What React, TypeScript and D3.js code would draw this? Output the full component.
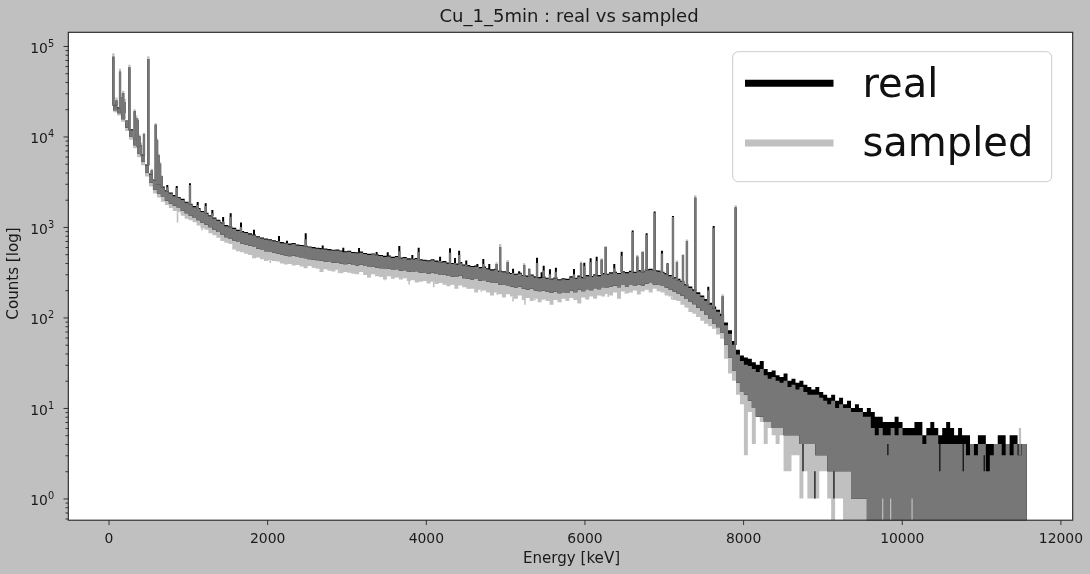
import React, { useEffect, useRef } from 'react';
import * as d3 from 'd3';

// channel energies in keV, read along the x axis
const energy = [
  60, 110, 160, 210, 260, 310, 360, 410, 460, 510,
  560, 610, 660, 710, 760, 810, 860, 910, 960, 1010,
  1060, 1110, 1160, 1210, 1260, 1310, 1360, 1410, 1460, 1510,
  1560, 1610, 1660, 1710, 1760, 1810, 1860, 1910, 1960, 2010,
  2060, 2110, 2160, 2210, 2260, 2310, 2360, 2410, 2460, 2510,
  2560, 2610, 2660, 2710, 2760, 2810, 2860, 2910, 2960, 3010,
  3060, 3110, 3160, 3210, 3260, 3310, 3360, 3410, 3460, 3510,
  3560, 3610, 3660, 3710, 3760, 3810, 3860, 3910, 3960, 4010,
  4060, 4110, 4160, 4210, 4260, 4310, 4360, 4410, 4460, 4510,
  4560, 4610, 4660, 4710, 4760, 4810, 4860, 4910, 4960, 5010,
  5060, 5110, 5160, 5210, 5260, 5310, 5360, 5410, 5460, 5510,
  5560, 5610, 5660, 5710, 5760, 5810, 5860, 5910, 5960, 6010,
  6060, 6110, 6160, 6210, 6260, 6310, 6360, 6410, 6460, 6510,
  6560, 6610, 6660, 6710, 6760, 6810, 6860, 6910, 6960, 7010,
  7060, 7110, 7160, 7210, 7260, 7310, 7360, 7410, 7460, 7510,
  7560, 7610, 7660, 7710, 7760, 7810, 7860, 7910, 7960, 8010,
  8060, 8110, 8160, 8210, 8260, 8310, 8360, 8410, 8460, 8510,
  8560, 8610, 8660, 8710, 8760, 8810, 8860, 8910, 8960, 9010,
  9060, 9110, 9160, 9210, 9260, 9310, 9360, 9410, 9460, 9510,
  9560, 9610, 9660, 9710, 9760, 9810, 9860, 9910, 9960, 10010,
  10060, 10110, 10160, 10210, 10260, 10310, 10360, 10410, 10460, 10510,
  10560, 10610, 10660, 10710, 10760, 10810, 10860, 10910, 10960, 11010,
  11060, 11110, 11160, 11210, 11260, 11310, 11360, 11410, 11460, 11510, 11575,
];

const realUpper = [
  22400, 21000, 18500, 15000, 12000, 9800, 7900, 6400, 4900, 3900,
  3350, 3050, 2800, 2550, 2400, 2250, 2150, 2050, 1900, 1800,
  1700, 1620, 1500, 1440, 1350, 1270, 1200, 1130, 1050, 1020,
  980, 930, 900, 880, 850, 825, 790, 765, 745, 730,
  715, 700, 680, 670, 655, 665, 640, 630, 625, 610,
  600, 590, 585, 578, 570, 560, 565, 550, 540, 545,
  530, 525, 535, 515, 505, 510, 495, 490, 480, 485,
  470, 478, 460, 465, 450, 445, 455, 440, 435, 428,
  440, 425, 415, 420, 405, 400, 395, 410, 385, 380,
  370, 375, 360, 365, 350, 340, 345, 330, 325, 318,
  310, 305, 312, 295, 290, 298, 285, 280, 283, 275,
  270, 278, 265, 272, 268, 285, 275, 290, 280, 295,
  288, 300, 295, 310, 305, 315, 320, 310, 325, 318,
  328, 320, 335, 325, 340, 345, 335, 330, 320, 310,
  295, 280, 268, 255, 235, 220, 205, 190, 175, 160,
  145, 132, 122, 110, 88, 72, 55, 44, 38, 36,
  35, 32, 30, 33, 27, 25, 26, 23, 22, 24,
  20, 21, 19, 20, 18, 17, 16, 17, 15, 14,
  13, 14, 12, 13, 11, 12, 10, 11, 10, 9,
  10, 9, 8, 8, 7, 7, 7, 8, 7, 6,
  6, 6, 7, 7, 5, 6, 7, 6, 5, 6,
  7, 6, 5, 6, 5, 5, 4, 4, 5, 5,
  4, 4, 4, 5, 5, 4, 5, 5, 4, 4, 4,
];

const realLower = [
  19500, 18000, 15500, 12500, 10000, 8000, 6500, 5300, 4000, 3100,
  2600, 2350, 2150, 1950, 1820, 1720, 1620, 1520, 1420, 1340,
  1260, 1190, 1110, 1060, 990, 930, 880, 825, 770, 745,
  710, 680, 655, 640, 620, 600, 575, 555, 540, 530,
  520, 510, 495, 485, 475, 480, 465, 455, 450, 440,
  435, 428, 422, 416, 410, 402, 405, 395, 388, 392,
  380, 376, 385, 370, 362, 366, 355, 350, 343, 347,
  335, 342, 328, 332, 322, 318, 325, 313, 310, 305,
  312, 302, 295, 298, 288, 284, 280, 290, 272, 268,
  262, 266, 255, 258, 248, 240, 243, 232, 228, 223,
  218, 214, 218, 208, 203, 208, 198, 195, 198, 192,
  188, 194, 185, 190, 186, 198, 190, 202, 195, 205,
  200, 210, 205, 215, 212, 220, 224, 216, 228, 220,
  228, 222, 232, 225, 236, 240, 232, 228, 222, 214,
  204, 193, 184, 174, 160, 150, 140, 128, 118, 108,
  96, 86, 78, 68, 50, 36, 26, 19, 15, 14,
  12, 10, 8, 8, 7, 7, 6, 6, 6, 5,
  5, 5, 5, 4, 4, 4, 4, 3, 3, 3,
  2, 2, 2, 2, 2, 2, 1, 1, 1, 1,
  0, 0, 0, 0, 0, 0, 0, 0, 0, 0,
  0, 0, 0, 0, 0, 0, 0, 0, 0, 0,
  0, 0, 0, 0, 0, 0, 0, 0, 0, 0,
  0, 0, 0, 0, 0, 0, 0, 0, 0, 0, 0,
];

const sampledUpper = [
  22000, 20500, 18200, 14800, 11700, 9600, 7700, 6200, 4800, 3800,
  3280, 2950, 2730, 2480, 2340, 2180, 2100, 1990, 1850, 1760,
  1650, 1580, 1460, 1400, 1310, 1240, 1170, 1100, 1020, 990,
  950, 905, 875, 860, 825, 805, 770, 745, 725, 712,
  695, 685, 660, 655, 635, 648, 622, 615, 608, 595,
  582, 575, 568, 565, 552, 548, 548, 538, 525, 532,
  515, 512, 520, 503, 490, 498, 480, 478, 465, 472,
  455, 466, 447, 453, 438, 433, 442, 428, 422, 417,
  428, 413, 405, 408, 393, 390, 383, 398, 375, 368,
  360, 364, 350, 354, 340, 330, 336, 320, 316, 308,
  302, 296, 304, 287, 281, 290, 277, 272, 275, 267,
  262, 270, 258, 264, 260, 276, 267, 282, 272, 286,
  280, 292, 286, 300, 297, 306, 311, 302, 316, 308,
  318, 312, 325, 316, 330, 335, 326, 320, 310, 300,
  285, 270, 258, 246, 226, 212, 197, 182, 168, 153,
  138, 125, 116, 104, 82, 66, 50, 39, 33, 30,
  29, 27, 25, 27, 23, 21, 22, 20, 19, 20,
  17, 18, 16, 17, 15, 14, 14, 14, 13, 12,
  11, 12, 10, 11, 10, 10, 9, 9, 9, 8,
  8, 6, 5, 6, 5, 5, 6, 5, 6, 5,
  5, 5, 5, 5, 4, 5, 5, 5, 4, 4,
  4, 4, 4, 4, 4, 3, 4, 3, 4, 4,
  2, 3, 4, 4, 3, 4, 3, 4, 3, 4, 2,
];

const sampledLower = [
  18500, 17000, 14500, 11500, 9200, 7400, 5900, 4800, 3600, 2800,
  2350, 2120, 1900, 1750, 1620, 1500, 1450, 1330, 1230, 1190,
  1130, 1040, 970, 930, 850, 810, 760, 700, 670, 650,
  565, 540, 525, 505, 490, 450, 460, 440, 420, 430,
  420, 415, 395, 385, 390, 375, 380, 365, 350, 370,
  355, 345, 318, 340, 328, 322, 336, 308, 318, 312,
  305, 300, 318, 295, 276, 300, 285, 280, 262, 285,
  267, 276, 262, 272, 253, 258, 244, 248, 253, 238,
  248, 235, 240, 230, 221, 230, 207, 225, 216, 207,
  207, 189, 202, 198, 189, 175, 189, 180, 166, 180,
  170, 161, 175, 156, 164, 152, 161, 147, 158, 152,
  138, 156, 147, 161, 152, 164, 156, 143, 166, 158,
  170, 161, 175, 170, 182, 175, 189, 161, 193, 184,
  189, 198, 179, 193, 202, 189, 207, 195, 189, 175,
  170, 156, 152, 138, 129, 115, 110, 101, 92, 85,
  80, 75, 65, 58, 35, 24, 20, 14, 11, 3,
  9, 4, 8, 7, 4, 6, 5, 4, 5, 2,
  2, 3, 3, 1, 2, 1, 1, 1, 2, 2,
  1, 0, 1, 1, 0, 0, 0, 0, 0, 0,
  0, 0, 0, 0, 0, 0, 0, 0, 0, 0,
  0, 0, 0, 0, 0, 0, 0, 0, 0, 0,
  0, 0, 0, 0, 0, 0, 0, 0, 0, 0,
  0, 0, 0, 0, 0, 0, 0, 0, 0, 0, 0,
];

// emission lines that stand out above the continuum
const peakEnergy = [
  61, 100, 145, 165, 185, 205, 263, 330, 350, 368, 390, 410, 447, 502, 545, 595, 612, 630, 650, 670,
  741, 860, 1027, 1124, 1225, 1309, 1445, 1540, 1670, 1834, 2149, 2486, 3158, 3666, 3910,
  4305, 4368, 4420, 4650, 4725, 4800, 4893, 4937, 5032, 5177, 5240, 5303, 5402, 5486, 5565, 5640, 5868,
  5957, 5998, 6078, 6154, 6217, 6268, 6376, 6469, 6608, 6666, 6734, 6784, 6885, 6977, 7048, 7116, 7166,
  7242, 7292, 7397, 7561, 7629, 7742, 7906, 11490,
  2250, 2700, 2960, 3380, 3520, 3830, 4180, 4510, 5100, 5460,
];
const peakReal = [
  76000, 25000, 52000, 27000, 30000, 24000, 58000, 19000, 16000, 15000, 10000, 8000, 10500, 72000, 4200, 13500, 9000, 6200, 5000, 3600,
  2900, 2830, 3040, 1890, 1830, 1540, 1290, 1420, 1120, 930, 795, 850, 585, 617, 590,
  581, 454, 547, 389, 443, 389, 390, 600, 410, 325, 380, 340, 457, 372, 340, 354, 343,
  395, 403, 451, 469, 435, 600, 389, 533, 912, 470, 530, 851, 1480, 547, 398, 1320, 410,
  490, 700, 2100, 219, 1023, 170, 1640, 4,
  705, 625, 590, 530, 525, 490, 470, 425, 345, 315,
];
const peakSampled = [
  83000, 27000, 56000, 30000, 32000, 26000, 62000, 20000, 17000, 16000, 10500, 8500, 11000, 77000, 4400, 14000, 9500, 6500, 5200, 3700,
  2750, 2700, 2900, 1750, 1700, 1420, 1150, 1300, 1000, 820, 700, 730, 520, 540, 530,
  520, 400, 490, 350, 390, 340, 407, 648, 432, 290, 398, 352, 400, 330, 300, 320, 300,
  414, 370, 410, 420, 451, 617, 350, 480, 880, 490, 547, 820, 1440, 510, 390, 1290, 426,
  500, 726, 2240, 200, 980, 180, 1740, 6,
  650, 575, 530, 495, 470, 445, 420, 385, 310, 275,
];

// downward fuzz of the sampled spectrum below its main band
const dipEnergy = [
  870, 1180, 1620, 2040, 2580, 2900, 3270, 3480, 3790, 4100, 4344, 4535, 4700, 4900, 5100, 5250, 5376, 5480, 5530, 5700,
  5855, 6040, 6300, 6510, 6800, 7100, 7292, 7420, 7520, 7620,
];
const dipCounts = [
  1120, 920, 560, 400, 380, 310, 285, 258, 232, 215, 240, 212, 192, 178, 150, 138, 155, 160, 170, 158,
  165, 160, 168, 187, 200, 158, 137, 116, 106, 101,
];

// single channels in the tail where only one of the two spectra is present
const silverSlitEnergy = [9760, 9860, 10130];
const blackDropEnergy = [8755, 8905, 9145, 9825, 10480, 10775, 11040];
const blackDropTop = [4, 2, 2, 4, 4, 4, 3];
const blackDropBottom = [2, 1, 1, 3, 2, 2, 2];

const xTicks = [0, 2000, 4000, 6000, 8000, 10000, 12000];
const yMajorTicks = [1, 10, 100, 1000, 10000, 100000];
const yMinorFactors = [2, 3, 4, 5, 6, 7, 8, 9];
const legendLabels = ['real', 'sampled'];

const SILVER = '#c0c0c0';
const OVERLAP = '#777777';
const FONT = '"DejaVu Sans", sans-serif';

const App: React.FC = () => {
  const ref = useRef<SVGSVGElement | null>(null);

  useEffect(() => {
    if (!ref.current) return;
    const svg = d3.select(ref.current);
    svg.selectAll('*').remove();

    const left = 68.3, right = 1072.7, top = 32.3, bottom = 520.2;
    const width = right - left, height = bottom - top;

    const x = d3.scaleLinear().domain([-507, 12155]).range([0, width]);
    const y = d3.scaleLog().domain([0.575, 141600]).range([height, 0]);
    // zero counts fall off the bottom of a log axis
    const yc = (c: number) => (c > 0 ? y(c) : height + 5);

    svg.append('defs').append('clipPath').attr('id', 'plot-clip')
      .append('rect').attr('width', width).attr('height', height);

    const plot = svg.append('g').attr('transform', `translate(${left},${top})`);
    plot.append('rect').attr('width', width).attr('height', height).attr('fill', '#fff');

    const marks = plot.append('g').attr('clip-path', 'url(#plot-clip)');
    const idx = d3.range(energy.length);
    const at = (arr: number[], e: number) => arr[Math.max(0, d3.bisectRight(energy, e) - 1)];

    const band = (lo: (i: number) => number, hi: (i: number) => number) =>
      d3.area<number>()
        .curve(d3.curveStepAfter)
        .x(i => x(energy[i]))
        .y0(i => yc(lo(i)))
        .y1(i => yc(hi(i)))(idx);

    marks.append('g').selectAll('line').data(dipEnergy).enter().append('line')
      .attr('x1', d => x(d)).attr('x2', d => x(d))
      .attr('y1', d => yc(at(sampledLower, d)))
      .attr('y2', (_, i) => yc(dipCounts[i]))
      .attr('stroke', SILVER).attr('stroke-width', 1.6);

    marks.append('path').attr('d', band(i => sampledLower[i], i => sampledUpper[i])).attr('fill', SILVER);
    marks.append('path').attr('d', band(i => realLower[i], i => realUpper[i])).attr('fill', '#000');
    marks.append('path')
      .attr('d', band(i => Math.max(realLower[i], sampledLower[i]), i => Math.min(realUpper[i], sampledUpper[i])))
      .attr('fill', OVERLAP);

    const peakLayer = (tops: number[], colour: string, w: number) =>
      marks.append('g').selectAll('line').data(peakEnergy).enter().append('line')
        .attr('x1', d => x(d)).attr('x2', d => x(d))
        .attr('y1', d => yc(at(sampledUpper, d)))
        .attr('y2', (_, i) => yc(tops[i]))
        .attr('stroke', colour).attr('stroke-width', w);

    peakLayer(peakSampled, SILVER, 2.3);
    peakLayer(peakReal, '#000', 2);
    peakLayer(peakEnergy.map((_, i) => Math.min(peakReal[i], peakSampled[i])), OVERLAP, 2.3);

    marks.append('g').selectAll('line').data(silverSlitEnergy).enter().append('line')
      .attr('x1', d => x(d)).attr('x2', d => x(d))
      .attr('y1', y(1)).attr('y2', height)
      .attr('stroke', SILVER).attr('stroke-width', 1.2);

    marks.append('g').selectAll('line').data(blackDropEnergy).enter().append('line')
      .attr('x1', d => x(d)).attr('x2', d => x(d))
      .attr('y1', (_, i) => y(blackDropTop[i])).attr('y2', (_, i) => y(blackDropBottom[i]))
      .attr('stroke', '#111').attr('stroke-width', 1.3);

    // axes
    const xAxis = plot.append('g').attr('transform', `translate(0,${height})`)
      .call(d3.axisBottom(x).tickValues(xTicks).tickFormat(d3.format('d') as any).tickSize(4.8).tickPadding(8));
    xAxis.select('.domain').remove();

    const yMinor: number[] = [];
    yMajorTicks.forEach(m => yMinorFactors.forEach(f => {
      const v = m * f;
      if (v < 141600) yMinor.push(v);
    }));
    [0.6, 0.7, 0.8, 0.9].forEach(v => yMinor.push(v));

    const yMinorAxis = plot.append('g')
      .call(d3.axisLeft(y).tickValues(yMinor).tickFormat(() => '').tickSize(2.8));
    yMinorAxis.select('.domain').remove();

    const yAxis = plot.append('g')
      .call(d3.axisLeft(y).tickValues(yMajorTicks).tickFormat(() => '').tickSize(4.8));
    yAxis.select('.domain').remove();
    yAxis.selectAll<SVGTextElement, number>('text').each(function (d) {
      const t = d3.select(this);
      t.attr('x', -14.2).attr('dy', '6.3px');
      t.append('tspan').text('10');
      t.append('tspan').attr('dy', '-6px').text(String(Math.round(Math.log10(d))));
    });

    svg.selectAll('.tick text').attr('font-family', FONT).attr('font-size', 13.9).attr('fill', '#1a1a1a');
    svg.selectAll('.tick tspan:last-child').attr('font-size', 9.8);
    svg.selectAll('.tick line').attr('stroke', '#222').attr('stroke-width', 0.9);

    plot.append('rect').attr('width', width).attr('height', height)
      .attr('fill', 'none').attr('stroke', '#222').attr('stroke-width', 1.1);

    // labels
    const label = (text: string, px: number, py: number, size: number, rotate = 0) =>
      svg.append('text').text(text)
        .attr('transform', `translate(${px},${py}) rotate(${rotate})`)
        .attr('text-anchor', 'middle').attr('font-family', FONT)
        .attr('font-size', size).attr('fill', '#1a1a1a');

    label('Cu_1_5min : real vs sampled', 569, 21.8, 18.05);
    label('Energy [keV]', 571.5, 563, 15.1);
    label('Counts [log]', 18, 273.5, 15.1, -90);

    // legend
    const legend = svg.append('g');
    legend.append('rect')
      .attr('x', 732.7).attr('y', 51.7).attr('width', 319).attr('height', 130).attr('rx', 5.5)
      .attr('fill', '#fff').attr('fill-opacity', 0.8).attr('stroke', '#ccc').attr('stroke-width', 1);

    const legendY = d3.scalePoint<string>().domain(legendLabels).range([83.3, 142.9]);
    const legendColour = d3.scaleOrdinal<string, string>().domain(legendLabels).range(['#000', SILVER]);

    legendLabels.forEach(name => {
      legend.append('line')
        .attr('x1', 745).attr('x2', 833.5)
        .attr('y1', legendY(name)!).attr('y2', legendY(name)!)
        .attr('stroke', legendColour(name)).attr('stroke-width', 7);
      legend.append('text').text(name)
        .attr('x', 862.5).attr('y', legendY(name)! + 13.5)
        .attr('font-family', FONT).attr('font-size', 40).attr('fill', '#111');
    });
  }, []);

  return (
    <svg
      ref={ref}
      width={1090}
      height={574}
      style={{ position: 'fixed', left: 0, top: 0, background: SILVER, filter: 'blur(0.5px)' }}
    />
  );
};

export default App;
